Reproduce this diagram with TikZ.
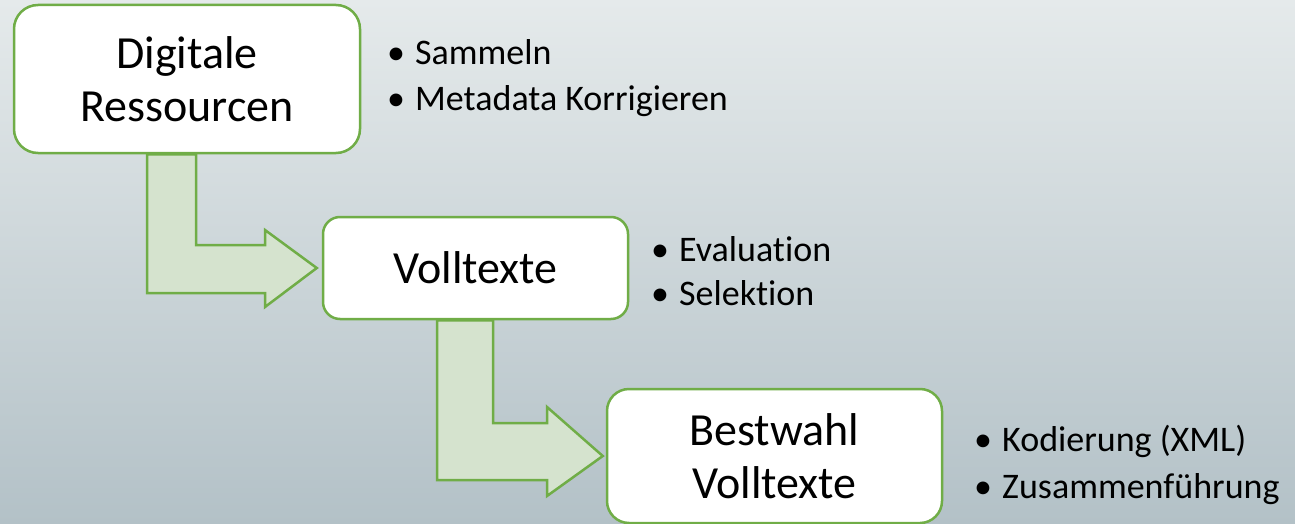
\documentclass[tikz,border=0pt]{standalone}
\usepackage{fontspec}
\setmainfont{Carlito}[Ligatures={NoCommon}]
\usepackage{tikz}
\usetikzlibrary{calc}
\usetikzlibrary{positioning}
\definecolor{mgreen}{HTML}{70AD47}
\definecolor{mfill}{HTML}{D5E3CE}
\definecolor{bgtop}{HTML}{E5EAEB}
\definecolor{bgbot}{HTML}{B3C1C7}
\tikzset{box/.style = {draw=mgreen, line width=2.5pt, fill=white, align=center,
                       font=\fontsize{46}{53}\selectfont},
         flow/.style = {draw=mgreen, line width=2.5pt, fill=mfill, line join=miter},
         item/.style = {anchor=base west, inner sep=0pt,
                        font=\fontsize{36}{43}\selectfont}}
\newcommand{\bul}[1]{\makebox[28pt][l]{•}#1}

\begin{document}
\begin{tikzpicture}[x=1pt, y=-1pt]
    \useasboundingbox (0, 0) rectangle (1295, 524);
    \shade [top color=bgtop, bottom color=bgbot] (0, 0) rectangle (1295, 524);

    \node [box, rounded corners=24pt, minimum width=346pt, minimum height=148pt] (dig) at (187, 79) {Digitale\\Ressourcen};
    \node [box, rounded corners=17pt, minimum width=305pt, minimum height=102pt] (vol) at (475.5, 268) {Volltexte};
    \node [box, rounded corners=22pt, minimum width=335pt, minimum height=134pt] (best) at (774.5, 456) {Bestwahl\\Volltexte};

    % elbow arrows
    \draw [flow] ($(dig.south)+(-40, 0)$) -- ($(dig.south)+(9, 0)$) -- (196, 245) -- (265, 245)
        -- (265, 230) -- ($(vol.west)+(-5, 0)$) -- (265, 307) -- (265, 293) -- (147, 293) -- cycle;
    \draw [flow] ($(vol.south)+(-38.5, 0)$) -- ($(vol.south)+(17.5, 0)$) -- (493, 423) -- (547, 423)
        -- (547, 407) -- ($(best.west)+(-3, 0)$) -- (547, 496) -- (547, 480) -- (437, 480) -- cycle;

    \node [item] (sam) at (387, 65) {\bul{Sammeln}};
    \node [item] (meta) at (387, 111) {\bul{Metadata Korrigieren}};
    \node [item] (eval) at (651, 261) {\bul{Evaluation}};
    \node [item] (sel) at (651, 305) {\bul{Selektion}};
    \node [item] (kod) at (974, 451) {\bul{Kodierung (XML)}};
    \node [item] (zus) at (974, 498) {\bul{Zusammenführung}};
\end{tikzpicture}
\end{document}
